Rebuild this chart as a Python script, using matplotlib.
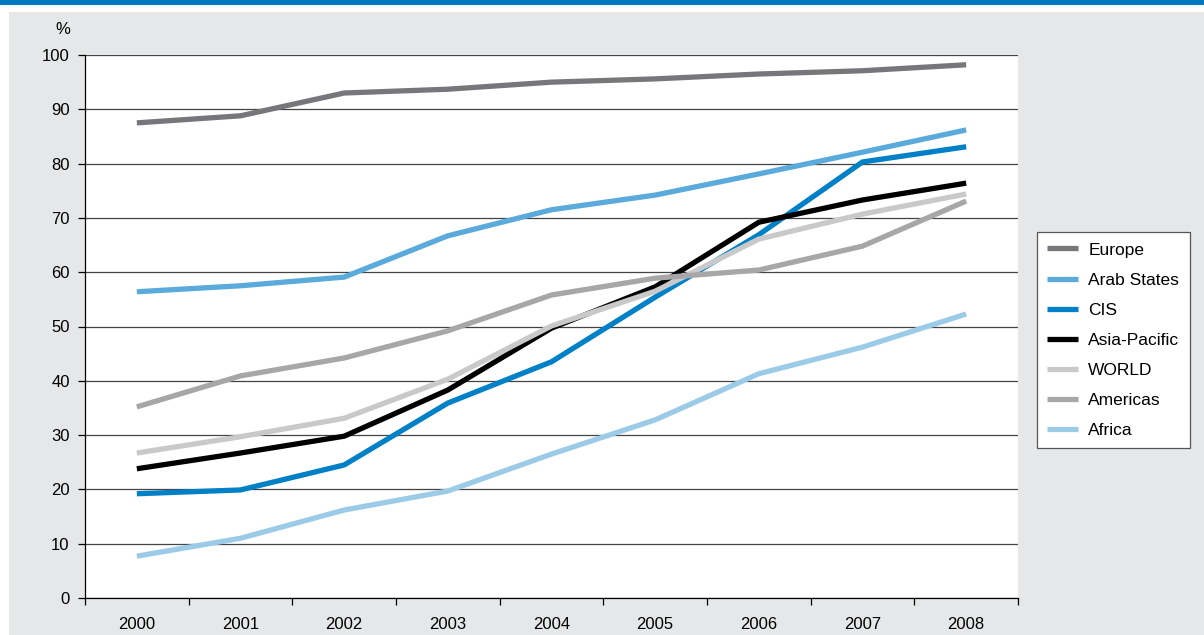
import matplotlib
matplotlib.use("Agg")
import matplotlib.pyplot as plt
from matplotlib.patches import Rectangle
from matplotlib import font_manager

years = ["2000", "2001", "2002", "2003", "2004", "2005", "2006", "2007", "2008"]
europe = [87.5, 88.8, 93.0, 93.7, 95.0, 95.6, 96.5, 97.1, 98.2]
arab_states = [56.4, 57.5, 59.1, 66.7, 71.5, 74.2, 78.1, 82.1, 86.2]
cis = [19.2, 19.9, 24.5, 35.9, 43.5, 55.4, 66.9, 80.3, 83.1]
asia_pacific = [23.8, 26.7, 29.8, 38.3, 49.7, 57.3, 69.2, 73.3, 76.4]
world = [26.7, 29.7, 33.1, 40.3, 50.1, 56.5, 66.1, 70.7, 74.4]
americas = [35.2, 40.9, 44.2, 49.2, 55.8, 58.9, 60.4, 64.8, 73.1]
africa = [7.7, 11.0, 16.2, 19.7, 26.5, 32.8, 41.3, 46.2, 52.3]

series = [
    ("Europe", europe, "#77777b"),
    ("Arab States", arab_states, "#5aaadc"),
    ("CIS", cis, "#0080c6"),
    ("Asia-Pacific", asia_pacific, "#000000"),
    ("WORLD", world, "#c9c9cb"),
    ("Americas", americas, "#a7a7aa"),
    ("Africa", africa, "#9ccbe8"),
]

names = {f.name for f in font_manager.fontManager.ttflist}
fam = "Liberation Sans Narrow" if "Liberation Sans Narrow" in names else "Liberation Sans"
plt.rcParams["font.family"] = [fam, "DejaVu Sans"]

W, H = 1204, 635
fig = plt.figure(figsize=(W / 100, H / 100), dpi=100)
fig.patch.set_facecolor("white")
fig.add_artist(Rectangle((9 / W, 0), 1 - 9 / W, 1 - 12 / H, transform=fig.transFigure,
                         facecolor="#e6e7e8", edgecolor="none", zorder=0))
fig.add_artist(Rectangle((0, 1 - 5 / H), 1, 5 / H, transform=fig.transFigure,
                         facecolor="#0079c1", edgecolor="none", zorder=0))

left, right, top, bottom = 85, 1018, 55, 598
ax = fig.add_axes([left / W, 1 - bottom / H, (right - left) / W, (bottom - top) / H])
ax.set_facecolor("white")
x = list(range(len(years)))
for name, vals, col in series:
    ax.plot(x, vals, color=col, lw=3.8, label=name, solid_capstyle="butt",
            solid_joinstyle="miter", zorder=3)

ax.set_xlim(-0.5, len(years) - 0.5)
ax.set_ylim(0, 100)
ax.set_yticks(range(0, 101, 10))
ax.yaxis.grid(True, color="#444444", lw=0.9, zorder=1)
ax.set_axisbelow(True)
ax.set_xticks([i - 0.5 for i in range(len(years) + 1)])
ax.set_xticklabels([])
ax.set_xticks(x, minor=True)
ax.set_xticklabels(years, minor=True)
ax.tick_params(axis="x", which="minor", length=0, pad=14, labelsize=12)
ax.tick_params(axis="x", which="major", length=5, width=0.9, color="black")
ax.tick_params(axis="y", length=5, width=0.9, color="black", labelsize=12, pad=6)
for s in ["top", "right"]:
    ax.spines[s].set_visible(False)
for s in ["left", "bottom"]:
    ax.spines[s].set_color("black")
    ax.spines[s].set_linewidth(0.9)

fig.text(63 / W, 1 - 30 / H, "%", fontsize=12, ha="center", va="center")

leg = fig.legend(loc="upper left", bbox_to_anchor=(1037 / W, 1 - 232 / H),
                 frameon=True, fancybox=False, fontsize=12.5, handlelength=1.75,
                 handletextpad=0.6, labelspacing=0.86, borderpad=0.6,
                 borderaxespad=0, framealpha=1)
leg.get_frame().set_edgecolor("#555555")
leg.get_frame().set_linewidth(0.9)
leg.get_frame().set_facecolor("white")

fig.savefig("out.png", dpi=100)
